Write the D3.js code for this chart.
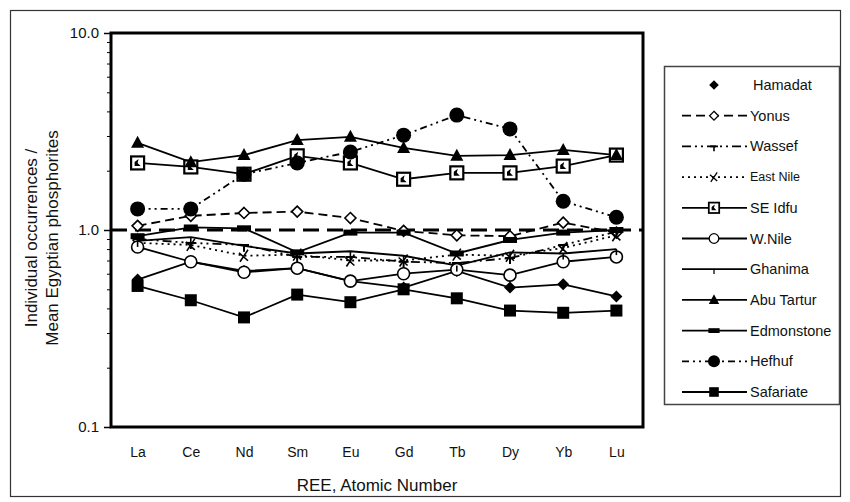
<!DOCTYPE html>
<html>
<head>
<meta charset="utf-8">
<script src="https://cdn.jsdelivr.net/npm/d3@7"></script>
<style>
  body { margin: 0; background: #fff; }
  svg { display: block; font-family: "Liberation Sans", Arial, sans-serif; }
</style>
</head>
<body>
<div class="ree_chart"></div>
<script>
// REE patterns normalised to mean Egyptian phosphorites
var elements = ["La", "Ce", "Nd", "Sm", "Eu", "Gd", "Tb", "Dy", "Yb", "Lu"];

var hamadat    = [0.56, 0.69, 0.62, 0.64, 0.55, 0.51, 0.62, 0.51, 0.53, 0.46];
var yonus      = [1.05, 1.18, 1.22, 1.24, 1.15, 0.99, 0.94, 0.93, 1.09, 0.97];
var wassef     = [0.90, 0.86, 0.84, 0.73, 0.73, 0.69, 0.68, 0.72, 0.84, 0.98];
var eastNile   = [0.86, 0.84, 0.74, 0.75, 0.70, 0.70, 0.75, 0.74, 0.81, 0.94];
var seIdfu     = [2.19, 2.09, 1.92, 2.38, 2.19, 1.81, 1.95, 1.95, 2.11, 2.40];
var wNile      = [0.82, 0.69, 0.61, 0.64, 0.55, 0.60, 0.63, 0.59, 0.69, 0.73];
var ghanima    = [0.88, 0.92, 0.83, 0.76, 0.78, 0.74, 0.66, 0.77, 0.76, 0.80];
var abuTartur  = [2.77, 2.21, 2.40, 2.86, 2.97, 2.61, 2.38, 2.40, 2.55, 2.40];
var edmonstone = [0.93, 1.03, 1.02, 0.77, 0.97, 0.97, 0.76, 0.89, 0.97, 1.00];
var hefhuf     = [1.28, 1.28, 1.92, 2.19, 2.49, 3.03, 3.83, 3.26, 1.40, 1.16];
var safariate  = [0.52, 0.44, 0.36, 0.47, 0.43, 0.50, 0.45, 0.39, 0.38, 0.39];

var yTicks = [0.1, 1, 10];
var yMinor = [0.2, 0.3, 0.4, 0.5, 0.6, 0.7, 0.8, 0.9, 2, 3, 4, 5, 6, 7, 8, 9];

var series = [
  {name: "Hamadat",    values: hamadat,    marker: "diamond",  dash: null},
  {name: "Yonus",      values: yonus,      marker: "odiamond", dash: "9,5"},
  {name: "Wassef",     values: wassef,     marker: "tee",      dash: "9,4,2,4,2,4"},
  {name: "East Nile",  values: eastNile,   marker: "cross",    dash: "2,4"},
  {name: "SE Idfu",    values: seIdfu,     marker: "osquare",  dash: null},
  {name: "W.Nile",     values: wNile,      marker: "ocircle",  dash: null},
  {name: "Ghanima",    values: ghanima,    marker: "tick",     dash: null},
  {name: "Abu Tartur", values: abuTartur,  marker: "triangle", dash: null},
  {name: "Edmonstone", values: edmonstone, marker: "bar",      dash: null},
  {name: "Hefhuf",     values: hefhuf,     marker: "circle",   dash: "7,4,2,4,2,4"},
  {name: "Safariate",  values: safariate,  marker: "square",   dash: null}
];

var W = 850, H = 502;
var plot = {left: 111, right: 643, top: 33, bottom: 427};

var svg = d3.select(".ree_chart").append("svg")
    .attr("width", W)
    .attr("height", H);

// outer frame
svg.append("rect")
    .attr("x", 10.5).attr("y", 10.5)
    .attr("width", 830).attr("height", 486)
    .attr("fill", "none").attr("stroke", "#333").attr("stroke-width", 1.2);

var x = d3.scalePoint()
    .domain(elements)
    .range([plot.left, plot.right])
    .padding(0.5);

var y = d3.scaleLog()
    .domain([0.1, 10])
    .range([plot.bottom, plot.top]);

// y axis: major + minor ticks
var yAxis = svg.append("g")
    .attr("transform", "translate(" + plot.left + ",0)")
    .call(d3.axisLeft(y).tickValues(yTicks).tickFormat(d3.format(".1f")).tickSize(7).tickPadding(5));
yAxis.select(".domain").remove();
yAxis.selectAll("line").attr("stroke", "#000").attr("stroke-width", 1.5);
yAxis.selectAll("text").attr("font-size", 15).attr("fill", "#111")
    .attr("font-family", "Liberation Sans, Arial, sans-serif");

var yMinorAxis = svg.append("g")
    .attr("transform", "translate(" + plot.left + ",0)")
    .call(d3.axisLeft(y).tickValues(yMinor).tickFormat("").tickSize(4));
yMinorAxis.select(".domain").remove();
yMinorAxis.selectAll("line").attr("stroke", "#000").attr("stroke-width", 1);

// x axis labels only
var xAxis = svg.append("g")
    .attr("transform", "translate(0," + plot.bottom + ")")
    .call(d3.axisBottom(x).tickSize(0).tickPadding(20));
xAxis.select(".domain").remove();
xAxis.selectAll("text").attr("font-size", 14).attr("fill", "#111")
    .attr("font-family", "Liberation Sans, Arial, sans-serif");

// axis titles
svg.append("text")
    .attr("x", (plot.left + plot.right) / 2)
    .attr("y", 491)
    .attr("text-anchor", "middle")
    .attr("font-size", 17)
    .attr("fill", "#111")
    .text("REE, Atomic Number");

var yTitle = svg.append("text")
    .attr("transform", "translate(0,238) rotate(-90)")
    .attr("text-anchor", "middle")
    .attr("font-size", 17)
    .attr("fill", "#111");
yTitle.append("tspan").attr("x", 0).attr("y", 37).text("Individual occurrences /");
yTitle.append("tspan").attr("x", 0).attr("y", 58).text("Mean Egyptian phosphorites");

// reference line at 1.0
svg.append("line")
    .attr("x1", plot.left).attr("x2", plot.right)
    .attr("y1", y(1)).attr("y2", y(1))
    .attr("stroke", "#000").attr("stroke-width", 3)
    .attr("stroke-dasharray", "16,8");

// marker drawing
function drawMarker(g, type, cx, cy, k) {
  k = k || 1;
  var m = g.append("g").attr("transform", "translate(" + cx + "," + cy + ") scale(" + k + ")");
  if (type === "diamond") {
    m.append("path").attr("d", "M0,-6L6,0L0,6L-6,0Z").attr("fill", "#000");
  } else if (type === "odiamond") {
    m.append("path").attr("d", "M0,-5.5L5.5,0L0,5.5L-5.5,0Z")
      .attr("fill", "#fff").attr("stroke", "#000").attr("stroke-width", 1.6);
  } else if (type === "tee") {
    m.append("path").attr("d", "M-5,0H5M0,0V6")
      .attr("fill", "none").attr("stroke", "#000").attr("stroke-width", 2);
  } else if (type === "cross") {
    m.append("path").attr("d", "M-4,6L4,-6M-5,-3L4,5")
      .attr("fill", "none").attr("stroke", "#000").attr("stroke-width", 1.6);
  } else if (type === "osquare") {
    m.append("rect").attr("x", -6.5).attr("y", -6.5).attr("width", 13).attr("height", 13)
      .attr("fill", "#fff").attr("stroke", "#000").attr("stroke-width", 2.2);
    m.append("path").attr("d", "M-3,3L-3,-1L1,-4L0,0L3,3Z").attr("fill", "#000");
  } else if (type === "ocircle") {
    m.append("circle").attr("r", 6)
      .attr("fill", "#fff").attr("stroke", "#000").attr("stroke-width", 1.6);
  } else if (type === "tick") {
    m.append("path").attr("d", "M0,0V6")
      .attr("stroke", "#000").attr("stroke-width", 1.6);
  } else if (type === "triangle") {
    m.append("path").attr("d", "M0,-7L6.5,5L-6.5,5Z").attr("fill", "#000");
  } else if (type === "bar") {
    m.append("rect").attr("x", -7).attr("y", -3).attr("width", 14).attr("height", 6).attr("fill", "#000");
  } else if (type === "circle") {
    m.append("circle").attr("r", 7.5).attr("fill", "#000");
  } else if (type === "square") {
    m.append("rect").attr("x", -6).attr("y", -6).attr("width", 12).attr("height", 12).attr("fill", "#000");
  }
}

var line = d3.line()
    .x(function(d, i) { return x(elements[i]); })
    .y(function(d) { return y(d); });

var chart = svg.append("g");

series.forEach(function(s) {
  chart.append("path")
      .datum(s.values)
      .attr("d", line)
      .attr("fill", "none")
      .attr("stroke", "#000")
      .attr("stroke-width", 1.8)
      .attr("stroke-dasharray", s.dash);
});

series.forEach(function(s) {
  s.values.forEach(function(v, i) {
    drawMarker(chart, s.marker, x(elements[i]), y(v));
  });
});

// plot frame
svg.append("rect")
    .attr("x", plot.left).attr("y", plot.top)
    .attr("width", plot.right - plot.left).attr("height", plot.bottom - plot.top)
    .attr("fill", "none").attr("stroke", "#000").attr("stroke-width", 3);

// legend
var legend = svg.append("g");
legend.append("rect")
    .attr("x", 664.5).attr("y", 66.5)
    .attr("width", 175).attr("height", 338)
    .attr("fill", "#fff").attr("stroke", "#444").attr("stroke-width", 1.5);

var item = legend.selectAll("g.item")
    .data(series)
    .enter().append("g")
    .attr("class", "item")
    .attr("transform", function(d, i) { return "translate(0," + (85 + i * 30.7) + ")"; });

item.each(function(d) {
  var g = d3.select(this);
  if (d.name !== "Hamadat") {
    g.append("line")
        .attr("x1", 682).attr("x2", 747)
        .attr("y1", 0).attr("y2", 0)
        .attr("stroke", "#000").attr("stroke-width", 1.8)
        .attr("stroke-dasharray", d.dash);
  }
  drawMarker(g, d.marker, 714, 0, 0.8);
});

item.append("text")
    .attr("x", function(d) { return d.name === "Hamadat" ? 753 : 750; })
    .attr("y", 0)
    .attr("dy", "0.35em")
    .attr("font-size", function(d) { return d.name === "East Nile" ? 12.5 : 14.5; })
    .attr("fill", "#111")
    .text(function(d) { return d.name; });
</script>
</body>
</html>
